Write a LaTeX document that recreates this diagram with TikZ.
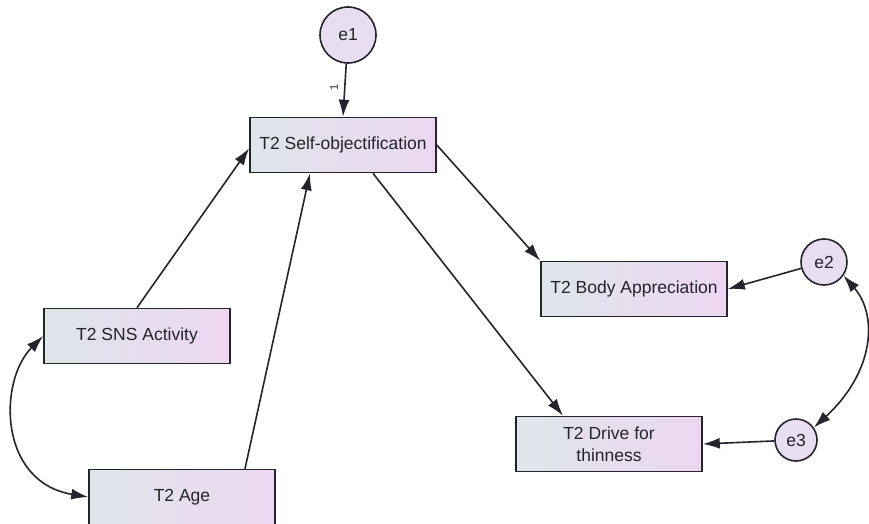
\documentclass[tikz,border=0pt]{standalone}
\usepackage{fontspec}
\setmainfont{Liberation Sans}
\usetikzlibrary{arrows.meta}

\definecolor{boxLeft}{RGB}{222,230,234}
\definecolor{boxRight}{RGB}{238,214,242}
\definecolor{errFill}{RGB}{232,222,242}
\definecolor{inkGray}{RGB}{36,36,44}

\tikzset{
	varBox/.style={draw=inkGray, line width=1.6pt, left color=boxLeft, right color=boxRight,
		minimum width=186pt, minimum height=55pt, inner sep=0pt, align=center,
		text=inkGray, font=\fontsize{17.5}{22}\selectfont},
	errCircle/.style={circle, draw=inkGray, line width=1.6pt, fill=errFill, inner sep=0pt,
		text=inkGray, font=\fontsize{17.5}{20}\selectfont},
	effect/.style={-{Latex[length=17pt,width=11pt]}, line width=1.6pt, draw=inkGray},
	covar/.style={{Latex[length=17pt,width=11pt]}-{Latex[length=17pt,width=11pt]},
		line width=1.6pt, draw=inkGray}
}

\begin{document}
\begin{tikzpicture}[x=1pt, y=-1pt]
		\useasboundingbox (0,0) rectangle (869,524);

		% observed variables
		\node[varBox] (Self) at (343,145) {T2 Self-objectification};
		\node[varBox] (Body) at (634,289) {T2 Body Appreciation};
		\node[varBox] (SNS)  at (137,336) {T2 SNS Activity};
		\node[varBox] (Drive) at (609,444) {T2 Drive for\\thinness};
		\node[varBox] (Age)  at (182,497) {T2 Age};

		% error terms
		\node[errCircle, minimum size=56pt] (e1) at (348,35) {e1};
		\node[errCircle, minimum size=46pt] (e2) at (824,262) {e2};
		\node[errCircle, minimum size=42pt] (e3) at (796,440) {e3};

		% paths
		\draw[effect] (e1) -- (Self.north)
			node[pos=0.45, anchor=south, rotate=90, inner sep=6pt, text=inkGray,
				font=\fontsize{11}{11}\selectfont] {1};
		\draw[effect] (SNS.north) -- (Self.-178);
		\draw[effect] ([xshift=63pt]Age.north) -- ([xshift=-33pt]Self.south);
		\draw[effect] (Self.east) -- (Body.north west);
		\draw[effect] ([xshift=30pt]Self.south) -- ([xshift=-46pt]Drive.north);
		\draw[effect] (e2) -- (Body.east);
		\draw[effect] (e3) -- (Drive.east);

		% covariances
		\draw[covar] (SNS.west) .. controls +(-45,45) and +(-90,-15) .. (Age.west);
		\draw[covar] (e2.-35) .. controls +(35,40) and +(60,-55) .. (e3.35);
	\end{tikzpicture}
\end{document}
